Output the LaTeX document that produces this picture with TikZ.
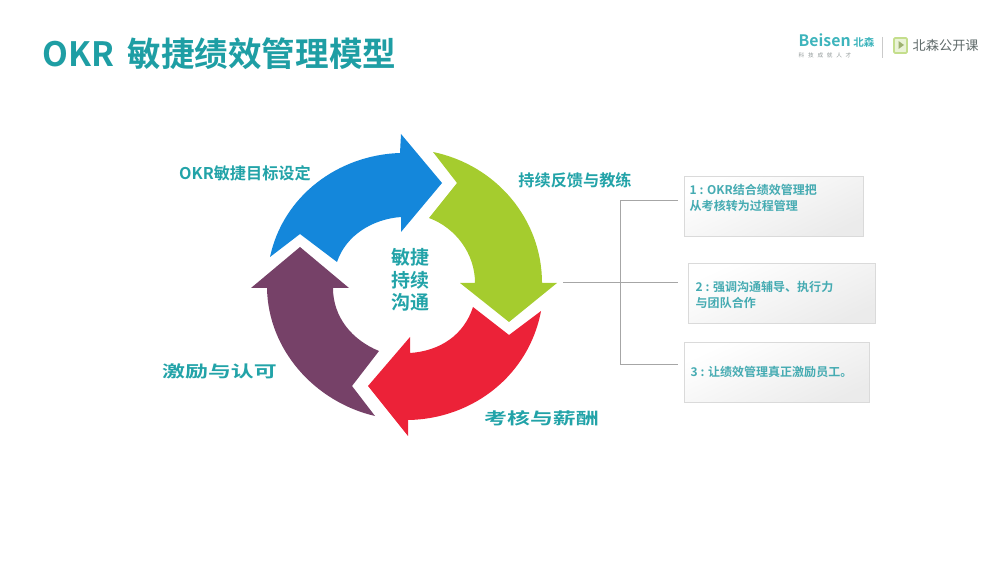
\documentclass[tikz,border=0pt]{standalone}
\usepackage{fontspec}
\setmainfont{Noto Sans CJK SC}[BoldFont={* Bold}]
\usetikzlibrary{positioning}
\definecolor{bsteal}{HTML}{1E9EA4}
\definecolor{bslabel}{HTML}{22A3A8}
\definecolor{bsboxtext}{HTML}{45ABB2}
\definecolor{bsblue}{HTML}{1487DB}
\definecolor{bsgreen}{HTML}{A5CC2E}
\definecolor{bsred}{HTML}{EC2238}
\definecolor{bspurple}{HTML}{764168}
\definecolor{bsline}{HTML}{A6A6A6}
\definecolor{bsboxline}{HTML}{DADADA}
\definecolor{bsboxend}{HTML}{EBEBEB}
\definecolor{bslogo}{HTML}{3DB4BC}
\definecolor{bsgrey}{HTML}{5F6A6A}
\definecolor{bsicon}{HTML}{C4DE8C}
\tikzset{
  widelabel/.style={text=bslabel, font=\fontsize{4.6}{5.5}\selectfont\bfseries, xscale=1.42, transform shape},
  notebox/.style={draw=bsboxline, line width=0.3pt, left color=white, right color=bsboxend, shading angle=25, minimum height=0.6cm, inner sep=0pt},
  notetext/.style={text=bsboxtext, anchor=west, align=left, inner sep=0pt, font=\fontsize{3.42}{4.55}\selectfont\bfseries},
  branch/.style={bsline, line width=0.25pt}
}
\begin{document}
\begin{tikzpicture}[font=\scriptsize]
    \useasboundingbox (0,0) rectangle (10,5.69);
    % title and logo
    \node[text=bsteal, anchor=west, inner sep=0pt, font=\fontsize{9.55}{11}\selectfont\bfseries] (title) at (0.42,5.155) {OKR\hspace{1.6pt} 敏捷绩效管理模型};
    \node[text=bslogo, anchor=west, inner sep=0pt, font=\fontsize{4.5}{5}\selectfont\bfseries] (beisen) at (7.98,5.28) {Beisen\,\fontsize{3}{4}\selectfont 北森};
    \node[text=bsgrey!70, anchor=west, inner sep=0pt, font=\fontsize{1.6}{2}\selectfont] (slogan) at (7.98,5.14) {科\ \ \ 技\ \ \ 成\ \ \ 就\ \ \ 人\ \ \ 才};
    \draw[bsline!60, line width=0.25pt] (8.82,5.32) -- (8.82,5.11);
    \draw[bsicon, fill=bsicon!35, line width=0.5pt, rounded corners=0.3pt] (8.94,5.31) rectangle (9.07,5.16);
    \fill[bsicon!80!black] (8.985,5.28) -- (9.04,5.24) -- (8.985,5.20) -- cycle;
    \node[text=bsgrey, anchor=west, inner sep=0pt, font=\fontsize{3.75}{4}\selectfont] (opencourse) at (9.12,5.23) {北森公开课};
    % four arrows of the cycle
    \fill[bsblue] (2.70,3.12) .. controls (2.83,3.73) and (3.38,4.14) .. (4.00,4.16)
      -- (4.01,4.35) -- (4.42,3.86) -- (4.01,3.37) -- (4.01,3.52)
      .. controls (3.73,3.50) and (3.46,3.34) .. (3.37,3.07) -- (3.00,3.35) -- cycle;
    \fill[bsgreen] (4.33,4.17) .. controls (4.96,4.04) and (5.42,3.50) .. (5.42,2.86)
      -- (5.57,2.86) -- (5.09,2.47) -- (4.60,2.86) -- (4.75,2.86)
      .. controls (4.75,3.15) and (4.56,3.41) .. (4.29,3.51) -- (4.57,3.86) -- cycle;
    \fill[bsred] (5.41,2.58) .. controls (5.29,1.94) and (4.73,1.50) .. (4.08,1.49)
      -- (4.08,1.33) -- (3.68,1.83) -- (4.10,2.32) -- (4.10,2.16)
      .. controls (4.40,2.18) and (4.64,2.34) .. (4.73,2.62) -- (5.09,2.34) -- cycle;
    \fill[bspurple] (3.75,1.53) .. controls (3.15,1.67) and (2.68,2.19) .. (2.67,2.81)
      -- (2.51,2.81) -- (3.00,3.22) -- (3.49,2.81) -- (3.33,2.81)
      .. controls (3.33,2.52) and (3.52,2.29) .. (3.79,2.18) -- (3.52,1.83) -- cycle;
    % labels round the cycle
    \node[text=bslabel, align=center, inner sep=0pt, font=\fontsize{5.4}{6.45}\selectfont\bfseries] (hub) at (4.10,2.89) {敏捷\\持续\\沟通};
    \node[text=bslabel, inner sep=0pt, font=\fontsize{4.6}{5.5}\selectfont\bfseries] (setlabel) at (2.45,3.96) {OKR敏捷目标设定};
    \node[text=bslabel, inner sep=0pt, font=\fontsize{4.6}{5.5}\selectfont\bfseries] (coachlabel) at (5.75,3.89) {持续反馈与教练};
    \node[widelabel, inner sep=0pt] (rewardlabel) at (2.195,1.98) {激励与认可};
    \node[widelabel, inner sep=0pt] (paylabel) at (5.415,1.51) {考核与薪酬};
    % note boxes
    \node[notebox, minimum width=1.79cm, anchor=north west] (boxone) at (6.84,3.93) {};
    \node[notebox, minimum width=1.87cm, anchor=north west] (boxtwo) at (6.88,3.06) {};
    \node[notebox, minimum width=1.85cm, anchor=north west] (boxthree) at (6.84,2.27) {};
    \node[notetext] (textone) at (6.89,3.71) {1 : OKR结合绩效管理把\\从考核转为过程管理};
    \node[notetext] (texttwo) at (6.95,2.74) {2 : 强调沟通辅导、执行力\\与团队合作};
    \node[notetext] (textthree) at (6.90,1.97) {3 : 让绩效管理真正激励员工。};
    % bracket to the boxes
    \coordinate (stem) at (5.63,2.87);
    \coordinate (fork) at (6.20,2.87);
    \coordinate (forktop) at (6.20,3.69);
    \coordinate (forkbot) at (6.20,2.05);
    \coordinate (endone) at (6.78,3.69);
    \coordinate (endtwo) at (6.78,2.87);
    \coordinate (endthree) at (6.78,2.05);
    \draw[branch] (stem) -- (endtwo);
    \draw[branch] (endone) -- (forktop) -- (forkbot) -- (endthree);
  \end{tikzpicture}
\end{document}
